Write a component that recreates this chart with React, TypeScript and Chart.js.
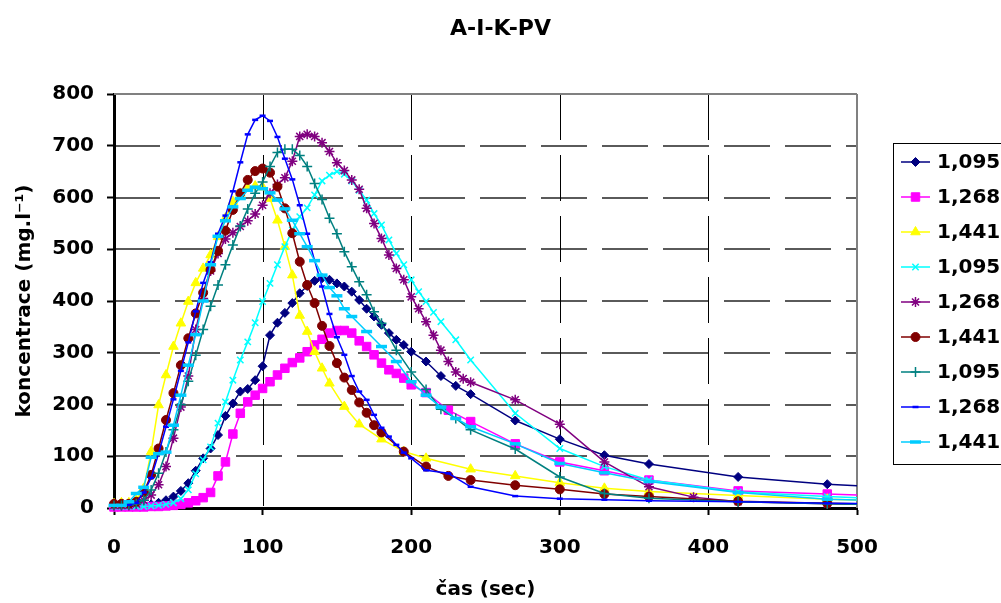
import React, { useEffect, useRef, useState } from 'react';
import { Chart, registerables } from 'chart.js';
import { drawPoint } from 'chart.js/helpers';

Chart.register(...registerables);

// ---------- data ----------
const chartTitle = 'A-I-K-PV';
const xTitle = 'čas (sec)';
const yTitle = 'koncentrace (mg.l⁻¹)';
const xTicks = [0, 100, 200, 300, 400, 500];
const yTicks = [0, 100, 200, 300, 400, 500, 600, 700, 800];

const seriesLabels = ['1,095', '1,268', '1,441', '1,095', '1,268', '1,441', '1,095', '1,268', '1,441'];

// series 1 (navy, diamond)
const navyTimes = [0, 5, 10, 15, 20, 25, 30, 35, 40, 45, 50, 55, 60, 65, 70, 75, 80, 85, 90, 95, 100, 105, 110, 115, 120, 125, 130, 135, 140, 145, 150, 155, 160, 165, 170, 175, 180, 185, 190, 195, 200, 210, 220, 230, 240, 270, 300, 330, 360, 420, 480, 540];
const navyValues = [3, 3, 3, 4, 5, 7, 10, 15, 22, 33, 48, 72, 96, 115, 141, 178, 202, 225, 230, 247, 274, 334, 358, 377, 396, 415, 429, 439, 444, 441, 434, 428, 418, 402, 385, 370, 354, 338, 325, 315, 302, 283, 255, 236, 220, 169, 133, 102, 85, 60, 46, 37];

// series 2 (magenta, square)
const magentaTimes = [0, 5, 10, 15, 20, 25, 30, 35, 40, 45, 50, 55, 60, 65, 70, 75, 80, 85, 90, 95, 100, 105, 110, 115, 120, 125, 130, 135, 140, 145, 150, 155, 160, 165, 170, 175, 180, 185, 190, 195, 200, 210, 225, 240, 270, 300, 330, 360, 420, 480, 540];
const magentaValues = [2, 2, 2, 2, 2, 3, 3, 4, 5, 7, 10, 14, 20, 30, 62, 89, 143, 183, 205, 218, 231, 244, 257, 270, 281, 290, 302, 315, 326, 338, 343, 343, 338, 323, 312, 296, 280, 267, 260, 251, 238, 223, 189, 167, 124, 89, 72, 54, 33, 27, 22];

// series 3 (yellow, triangle)
const yellowTimes = [0, 5, 10, 15, 20, 25, 30, 35, 40, 45, 50, 55, 60, 65, 70, 75, 80, 85, 90, 95, 100, 105, 110, 115, 120, 125, 130, 135, 140, 145, 155, 165, 180, 195, 210, 240, 270, 300, 330, 360, 420, 480, 540];
const yellowValues = [8, 10, 10, 15, 38, 109, 199, 257, 312, 357, 399, 435, 463, 489, 524, 560, 592, 608, 618, 622, 620, 598, 556, 505, 450, 372, 341, 302, 270, 241, 196, 162, 133, 109, 96, 75, 62, 49, 38, 32, 24, 17, 13];

// series 4 (cyan, x)
const cyanTimes = [0, 5, 10, 15, 20, 25, 30, 35, 40, 45, 50, 55, 60, 65, 70, 75, 80, 85, 90, 95, 100, 105, 110, 115, 120, 125, 130, 135, 140, 145, 150, 155, 160, 165, 170, 175, 180, 185, 190, 195, 200, 205, 210, 215, 220, 230, 240, 270, 300, 330, 360, 420, 480, 540];
const cyanValues = [3, 3, 3, 3, 3, 4, 5, 7, 10, 18, 35, 66, 93, 118, 164, 205, 247, 286, 321, 358, 399, 434, 470, 505, 537, 563, 580, 605, 632, 643, 650, 645, 632, 614, 595, 569, 547, 518, 492, 470, 441, 418, 399, 378, 360, 325, 286, 183, 115, 80, 54, 31, 22, 16];

// series 5 (purple, star)
const purpleTimes = [0, 5, 10, 15, 20, 25, 30, 35, 40, 45, 50, 55, 60, 65, 70, 75, 80, 85, 90, 95, 100, 105, 110, 115, 120, 125, 130, 135, 140, 145, 150, 155, 160, 165, 170, 175, 180, 185, 190, 195, 200, 205, 210, 215, 220, 225, 230, 235, 240, 270, 300, 330, 360, 390, 420, 480, 540];
const purpleValues = [5, 5, 5, 8, 15, 25, 45, 80, 135, 195, 255, 345, 405, 458, 492, 520, 532, 544, 555, 568, 585, 608, 625, 638, 670, 718, 722, 718, 706, 689, 667, 652, 634, 616, 579, 550, 521, 489, 463, 441, 408, 385, 360, 334, 305, 283, 263, 250, 243, 209, 162, 89, 41, 21, 12, 8, 6];

// series 6 (maroon, circle)
const maroonTimes = [0, 5, 10, 15, 20, 25, 30, 35, 40, 45, 50, 55, 60, 65, 70, 75, 80, 85, 90, 95, 100, 105, 110, 115, 120, 125, 130, 135, 140, 145, 150, 155, 160, 165, 170, 175, 180, 195, 210, 225, 240, 270, 300, 330, 360, 420, 480, 540];
const maroonValues = [8, 8, 8, 12, 30, 64, 115, 170, 222, 276, 328, 376, 416, 461, 497, 536, 576, 608, 634, 651, 656, 648, 621, 579, 531, 476, 431, 396, 352, 313, 280, 252, 228, 204, 184, 160, 146, 109, 80, 62, 54, 44, 36, 27, 22, 13, 9, 7];

// series 7 (teal, plus)
const tealTimes = [0, 5, 10, 15, 20, 25, 30, 35, 40, 45, 50, 55, 60, 65, 70, 75, 80, 85, 90, 95, 100, 105, 110, 115, 120, 125, 130, 135, 140, 145, 150, 155, 160, 165, 170, 175, 180, 190, 200, 210, 220, 230, 240, 270, 300, 330, 360, 420, 480, 540];
const tealValues = [5, 5, 6, 8, 15, 35, 67, 108, 151, 200, 245, 295, 345, 390, 431, 470, 508, 545, 578, 608, 630, 660, 687, 693, 693, 681, 660, 627, 596, 560, 530, 495, 466, 437, 412, 379, 357, 305, 263, 229, 191, 173, 151, 114, 60, 28, 19, 12, 8, 6];

// series 8 (blue, short dash)
const blueTimes = [0, 5, 10, 15, 20, 25, 30, 35, 40, 45, 50, 55, 60, 65, 70, 75, 80, 85, 90, 95, 100, 105, 110, 115, 120, 125, 130, 135, 140, 145, 150, 155, 160, 165, 170, 175, 180, 185, 190, 195, 200, 210, 225, 240, 270, 300, 330, 360, 420, 480, 540];
const blueValues = [5, 5, 6, 10, 30, 58, 105, 157, 210, 265, 320, 380, 435, 475, 530, 565, 612, 668, 722, 750, 758, 748, 717, 675, 635, 585, 530, 478, 428, 375, 330, 296, 255, 225, 209, 180, 155, 138, 122, 107, 96, 73, 67, 41, 23, 18, 16, 14, 12, 9, 8];

// series 9 (sky blue, long dash)
const skyTimes = [0, 5, 10, 15, 20, 25, 30, 35, 40, 45, 50, 55, 60, 65, 70, 75, 80, 85, 90, 95, 100, 105, 110, 115, 120, 125, 130, 135, 140, 145, 150, 155, 160, 170, 180, 190, 200, 210, 220, 230, 240, 270, 300, 330, 360, 420, 480, 540];
const skyValues = [5, 5, 12, 28, 40, 98, 105, 108, 160, 218, 276, 335, 400, 470, 525, 555, 582, 598, 614, 620, 617, 609, 595, 578, 556, 530, 505, 478, 450, 426, 410, 385, 370, 341, 312, 283, 244, 218, 195, 173, 157, 124, 86, 68, 51, 30, 17, 12];

const seriesTimes = [navyTimes, magentaTimes, yellowTimes, cyanTimes, purpleTimes, maroonTimes, tealTimes, blueTimes, skyTimes];
const seriesValues = [navyValues, magentaValues, yellowValues, cyanValues, purpleValues, maroonValues, tealValues, blueValues, skyValues];

// ---------- styles ----------
const seriesColors = ['#000080', '#FF00FF', '#FFFF00', '#00FFFF', '#800080', '#800000', '#008080', '#0000FF', '#00CCFF'];
const seriesMarkers = ['rectRot', 'rect', 'triangle', 'crossRot', 'star', 'circle', 'cross', 'line', 'line'];
const markerRadius = [4.5, 6, 5.5, 4.5, 5, 4.5, 5, 3, 5.5];
const markerBorder = [1, 1, 1, 1.5, 1.5, 1, 1.5, 2.5, 3.5];

const FONT_FAMILY = "'DejaVu Sans', 'Liberation Sans', Arial, sans-serif";
const DASH_ON = 46;
const DASH_OFF = 15;
const H_GRID_COLOR = '#5a5a5a';
const V_GRID_COLOR = '#000000';
const FRAME_COLOR = '#808080';

// grey plot frame (top + right) drawn on the canvas under the data
const frame = {
  id: 'plotFrame',
  beforeDatasetsDraw(chart: any) {
    const { ctx, chartArea } = chart;
    const { left, right, top, bottom } = chartArea;
    ctx.save();
    ctx.fillStyle = FRAME_COLOR;
    ctx.fillRect(left, Math.round(top) - 1, right - left, 2);
    ctx.fillRect(Math.round(right) - 1, top, 2, bottom - top);
    ctx.restore();
  },
};

const boxLegend = {
  id: 'boxLegend',
  afterDraw(chart: any) {
    const { ctx, chartArea } = chart;
    const boxLeft = chartArea.right + 36;
    const boxTop = 143;
    const rowGap = 35;
    const firstRow = 162;
    ctx.save();
    ctx.strokeStyle = '#000';
    ctx.lineWidth = 1;
    ctx.strokeRect(boxLeft + 0.5, boxTop + 0.5, 200, 321);
    chart.data.datasets.forEach((ds: any, i: number) => {
      const y = firstRow + i * rowGap;
      const x1 = boxLeft + 8;
      const x2 = boxLeft + 37;
      ctx.strokeStyle = ds.borderColor;
      ctx.lineWidth = ds.borderWidth;
      ctx.beginPath();
      ctx.moveTo(x1, y);
      ctx.lineTo(x2, y);
      ctx.stroke();
      ctx.fillStyle = ds.pointBackgroundColor;
      ctx.strokeStyle = ds.pointBorderColor;
      ctx.lineWidth = ds.pointBorderWidth;
      drawPoint(ctx, { pointStyle: ds.pointStyle, radius: ds.pointRadius, rotation: 0, borderWidth: ds.pointBorderWidth } as any, (x1 + x2) / 2, y);
      ctx.fillStyle = '#000';
      ctx.font = `bold 20px ${FONT_FAMILY}`;
      ctx.textAlign = 'left';
      ctx.textBaseline = 'middle';
      ctx.fillText(ds.label, x2 + 7, y + 1);
    });
    ctx.restore();
  },
};

type GridGeom = { left: number; right: number; top: number; bottom: number; hs: number[]; vs: number[] };

export default function App() {
  const canvasRef = useRef<HTMLCanvasElement | null>(null);
  const [grid, setGrid] = useState<GridGeom | null>(null);

  useEffect(() => {
    const canvas = canvasRef.current;
    if (!canvas) return;

    const datasets = seriesLabels.map((label, i) => ({
      label,
      data: seriesTimes[i].map((t, k) => ({ x: t, y: seriesValues[i][k] })),
      borderColor: seriesColors[i],
      backgroundColor: seriesColors[i],
      borderWidth: 1.5,
      pointStyle: seriesMarkers[i],
      pointRadius: markerRadius[i],
      pointBackgroundColor: seriesColors[i],
      pointBorderColor: seriesColors[i],
      pointBorderWidth: markerBorder[i],
      pointHoverRadius: markerRadius[i],
      tension: 0,
      fill: false,
      order: seriesLabels.length - 1 - i,
      clip: { left: 10, top: 10, right: 0, bottom: 10 },
    }));

    const chart = new Chart(canvas, {
      type: 'line',
      data: { datasets: datasets as any },
      plugins: [frame, boxLegend],
      options: {
        animation: false,
        responsive: false,
        events: [],
        layout: { padding: 0 },
        plugins: {
          legend: { display: false },
          tooltip: { enabled: false },
          title: {
            display: true,
            text: chartTitle,
            color: '#000',
            font: { family: FONT_FAMILY, size: 22, weight: 'bold' },
            padding: { top: 16, bottom: 51.6 },
          },
        },
        scales: {
          x: {
            type: 'linear',
            position: 'bottom',
            min: xTicks[0],
            max: xTicks[xTicks.length - 1],
            afterBuildTicks: (scale: any) => {
              scale.ticks = xTicks.map((v) => ({ value: v }));
            },
            ticks: {
              color: '#000',
              font: { family: FONT_FAMILY, size: 20, weight: 'bold' },
              padding: 21,
              maxRotation: 0,
            },
            grid: {
              display: true,
              drawOnChartArea: false,
              drawTicks: true,
              tickLength: 7,
              tickColor: '#000',
              tickWidth: 2,
              color: '#000',
            },
            border: { display: true, color: '#000', width: 3 },
            title: {
              display: true,
              text: xTitle,
              color: '#000',
              font: { family: FONT_FAMILY, size: 20, weight: 'bold' },
              padding: { top: 0, bottom: 1 },
            },
            afterFit: (scale: any) => {
              scale.height = 95;
            },
          },
          y: {
            type: 'linear',
            position: 'left',
            min: yTicks[0],
            max: yTicks[yTicks.length - 1],
            afterBuildTicks: (scale: any) => {
              scale.ticks = yTicks.map((v) => ({ value: v }));
            },
            ticks: {
              color: '#000',
              font: { family: FONT_FAMILY, size: 20, weight: 'bold' },
              padding: 13,
            },
            grid: {
              display: true,
              drawOnChartArea: false,
              drawTicks: true,
              tickLength: 7,
              tickColor: '#000',
              tickWidth: 2,
              color: '#000',
            },
            border: { display: true, color: '#000', width: 3 },
            title: {
              display: true,
              text: yTitle,
              color: '#000',
              font: { family: FONT_FAMILY, size: 20, weight: 'bold' },
              padding: { top: 13, bottom: 0 },
            },
            afterFit: (scale: any) => {
              scale.width = 114;
            },
          },
          legendSpace: {
            type: 'linear',
            position: 'right',
            display: true,
            grid: { display: false, drawOnChartArea: false },
            border: { display: false },
            ticks: { display: false },
            afterFit: (scale: any) => {
              scale.width = 144;
            },
          },
        },
      } as any,
    });

    // grid line positions taken from the chart's own scales
    const area = chart.chartArea;
    const xs: any = chart.scales.x;
    const ys: any = chart.scales.y;
    setGrid({
      left: area.left,
      right: area.right,
      top: area.top,
      bottom: area.bottom,
      hs: yTicks.slice(1, -1).map((v) => Math.round(ys.getPixelForValue(v))),
      vs: xTicks.slice(1, -1).map((v) => Math.round(xs.getPixelForValue(v))),
    });

    return () => {
      chart.destroy();
    };
  }, []);

  return (
    <div style={{ position: 'fixed', left: 0, top: 0, width: 1001, height: 603, background: '#fff', overflow: 'hidden' }}>
      {grid &&
        grid.hs.map((py, i) => (
          <div
            key={`h${i}`}
            style={{
              position: 'absolute',
              left: grid.left,
              top: py - 1,
              width: grid.right - grid.left,
              height: 2,
              background: `repeating-linear-gradient(to right, ${H_GRID_COLOR} 0px, ${H_GRID_COLOR} ${DASH_ON}px, transparent ${DASH_ON}px, transparent ${DASH_ON + DASH_OFF}px)`,
            }}
          />
        ))}
      {grid &&
        grid.vs.map((px, i) => (
          <div
            key={`v${i}`}
            style={{
              position: 'absolute',
              left: px,
              top: grid.top,
              width: 1,
              height: grid.bottom - grid.top,
              background: `repeating-linear-gradient(to bottom, ${V_GRID_COLOR} 0px, ${V_GRID_COLOR} ${DASH_ON}px, transparent ${DASH_ON}px, transparent ${DASH_ON + DASH_OFF}px)`,
            }}
          />
        ))}
      <canvas ref={canvasRef} width={1001} height={603} style={{ display: 'block', position: 'relative' }} />
    </div>
  );
}
